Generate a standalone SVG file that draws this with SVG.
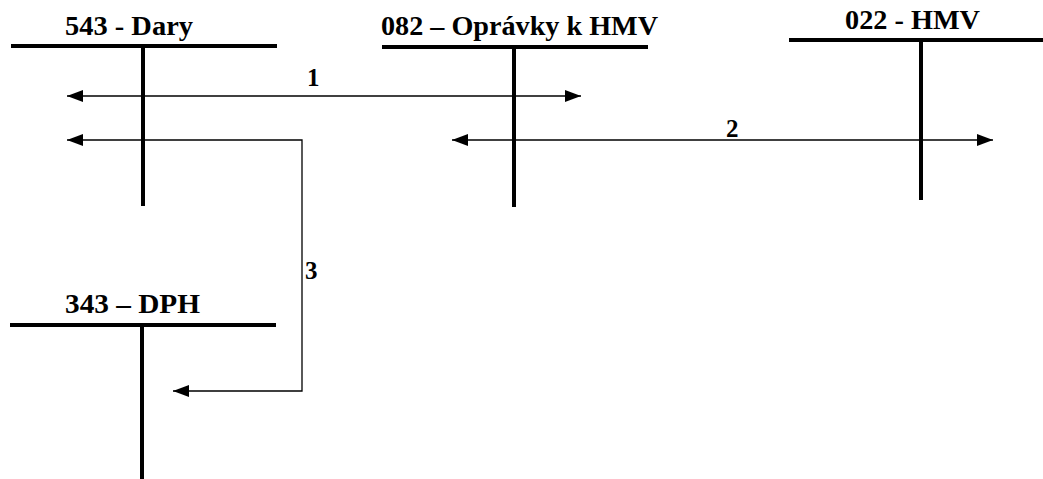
<svg xmlns="http://www.w3.org/2000/svg" width="1043" height="479" viewBox="0 0 1043 479">
<style>
.t{font-family:"Liberation Serif","Times New Roman",serif;font-weight:bold;font-size:28px;fill:#000}
.l{font-family:"Liberation Serif","Times New Roman",serif;font-weight:bold;font-size:25px;fill:#000}
.bar{stroke:#000;stroke-width:4;fill:none}
.c{stroke:#000;stroke-width:1.3;fill:none}
</style>
<defs>
<marker id="ah" viewBox="0 0 16 12" refX="16" refY="6" markerWidth="16" markerHeight="12" markerUnits="userSpaceOnUse" orient="auto-start-reverse">
<path d="M0,0 L16,6 L0,12 z" fill="#000"/>
</marker>
</defs>
<rect width="1043" height="479" fill="#fff"/>
<g id="t543">
<text class="t" x="65" y="35" textLength="128" lengthAdjust="spacingAndGlyphs">543 - Dary</text>
<line class="bar" x1="11" y1="46" x2="277" y2="46"/>
<line class="bar" x1="143" y1="46" x2="143" y2="206"/>
</g>
<g id="t082">
<text class="t" x="381" y="35" textLength="277" lengthAdjust="spacingAndGlyphs">082 – Oprávky k HMV</text>
<line class="bar" x1="382" y1="47" x2="648" y2="47"/>
<line class="bar" x1="514" y1="47" x2="514" y2="207"/>
</g>
<g id="t022">
<text class="t" x="845" y="29" textLength="135" lengthAdjust="spacingAndGlyphs">022 - HMV</text>
<line class="bar" x1="789" y1="40" x2="1043" y2="40"/>
<line class="bar" x1="921" y1="40" x2="921" y2="200"/>
</g>
<g id="t343">
<text class="t" x="65" y="313" textLength="135" lengthAdjust="spacingAndGlyphs">343 – DPH</text>
<line class="bar" x1="10" y1="325" x2="276" y2="325"/>
<line class="bar" x1="142" y1="325" x2="142" y2="479"/>
</g>
<g id="connectors">
<line class="c" x1="67" y1="96" x2="581" y2="96" marker-start="url(#ah)" marker-end="url(#ah)"/>
<line class="c" x1="452" y1="140" x2="993" y2="140" marker-start="url(#ah)" marker-end="url(#ah)"/>
<polyline class="c" points="67,140 302,140 302,391 173,391" marker-start="url(#ah)" marker-end="url(#ah)"/>
<text class="l" x="307" y="86">1</text>
<text class="l" x="726" y="137">2</text>
<text class="l" x="305" y="279">3</text>
</g>
</svg>
